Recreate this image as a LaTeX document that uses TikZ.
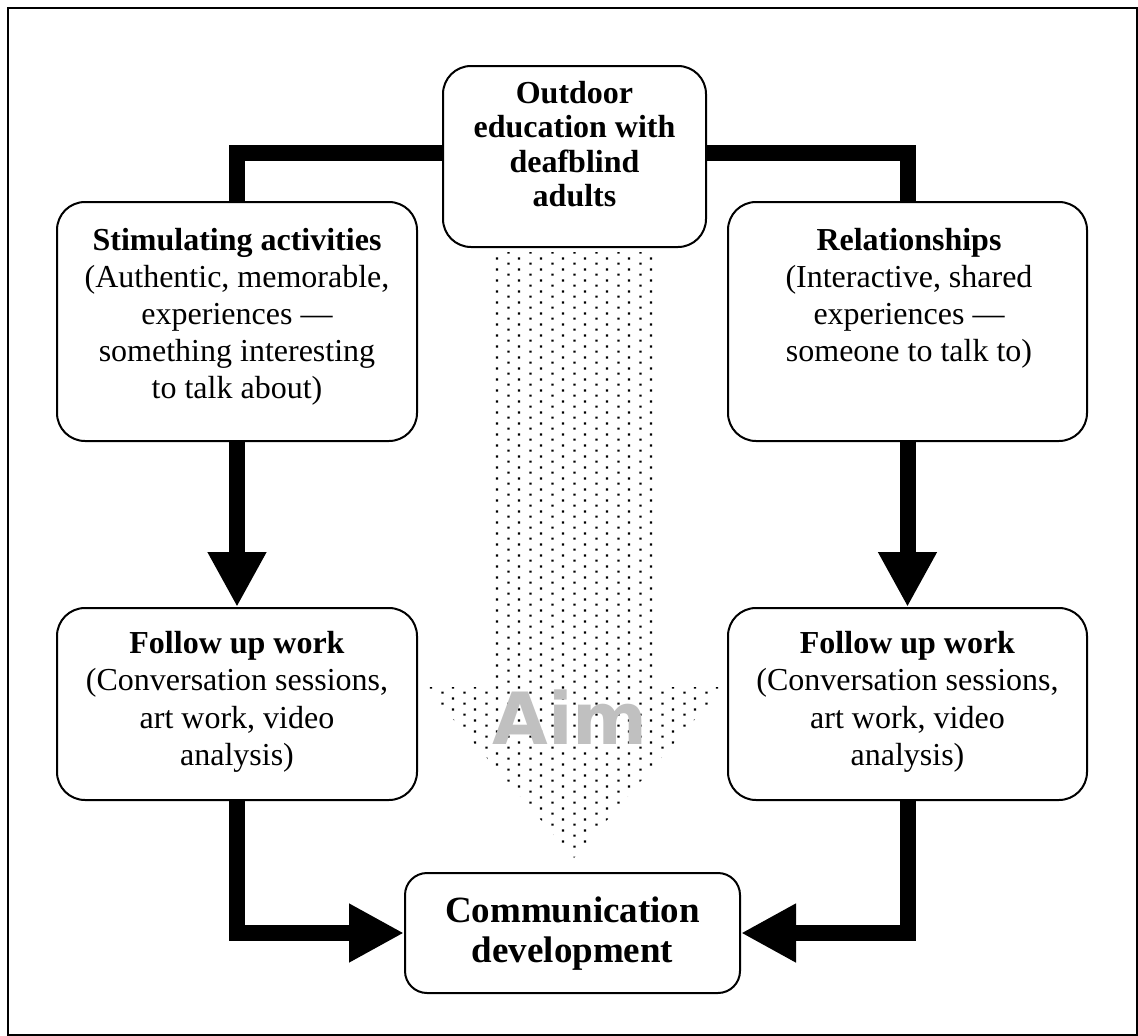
\documentclass[tikz,border=0pt]{standalone}
\usepackage{fontspec}
\setmainfont{Liberation Serif}
\newfontfamily\aimfont{DejaVu Sans}
\usetikzlibrary{arrows.meta,patterns}
\pgfdeclarepatternformonly{aimdots}{\pgfqpoint{0pt}{0pt}}{\pgfqpoint{22pt}{11pt}}{\pgfqpoint{22pt}{11pt}}{%
  \pgfpathrectangle{\pgfqpoint{1.5pt}{1.5pt}}{\pgfqpoint{2.3pt}{2.3pt}}%
  \pgfpathrectangle{\pgfqpoint{12.5pt}{7pt}}{\pgfqpoint{2.3pt}{2.3pt}}%
  \pgfusepath{fill}}
\definecolor{aimgray}{RGB}{192,192,192}
\newcommand\tallstrut{\rule{0pt}{25pt}}
\newcommand\commstrut{\rule{0pt}{29pt}}
\begin{document}
\begin{tikzpicture}[x=1pt,y=-1pt,
  box/.style={draw, line width=2pt, rounded corners=28pt, fill=white, inner sep=0pt},
  txt/.style={font=\fontsize{32}{37}\selectfont, align=center, anchor=north, inner sep=0pt},
  conn/.style={line width=16pt},
  arr/.style={line width=16pt, -{Triangle[length=55pt,width=55pt]}}]
\useasboundingbox (0,0) rectangle (1138,1036);
\draw[line width=2.5pt] (8,8) rectangle (1137,1035);

% dotted "Aim" arrow
\path[pattern=aimdots] (490,252) -- (658,252) -- (658,687) -- (723,687) -- (574,858) -- (425,687) -- (490,687) -- cycle;
\node[font=\aimfont\bfseries\fontsize{72}{72}\selectfont, text=aimgray, anchor=base, inner sep=0pt] (aim) at (570,744) {Aim};

% boxes
\node[box, minimum width=263pt, minimum height=181pt] (outdoor) at (574.5,156.5) {};
\node[box, minimum width=360pt, minimum height=239pt] (stim) at (237,321.5) {};
\node[box, minimum width=359pt, minimum height=239pt] (rel) at (907.5,321.5) {};
\node[box, minimum width=360pt, minimum height=192pt] (fuL) at (237,704) {};
\node[box, minimum width=359pt, minimum height=192pt] (fuR) at (907.5,704) {};
\node[box, rounded corners=22pt, minimum width=335pt, minimum height=120pt] (comm) at (572.5,933) {};

% texts
\node[txt, font=\bfseries\fontsize{32}{34.5}\selectfont] (outdoortxt) at (574.5,78)
  {\tallstrut Outdoor\\education with\\deafblind\\adults};
\node[txt] (stimtxt) at (237,225)
  {\tallstrut\textbf{Stimulating activities}\\(Authentic, memorable,\\experiences —\\something interesting\\to talk about)};
\node[txt] (reltxt) at (909,225)
  {\tallstrut\textbf{Relationships}\\(Interactive, shared\\experiences —\\someone to talk to)};
\node[txt, font=\fontsize{32}{37.5}\selectfont] (fuLtxt) at (237,628)
  {\tallstrut\textbf{Follow up work}\\(Conversation sessions,\\art work, video\\analysis)};
\node[txt, font=\fontsize{32}{37.5}\selectfont] (fuRtxt) at (907.5,628)
  {\tallstrut\textbf{Follow up work}\\(Conversation sessions,\\art work, video\\analysis)};
\node[txt, font=\bfseries\fontsize{37}{40}\selectfont] (commtxt) at (572.5,893)
  {\commstrut Communication\\development};

% connectors
\draw[conn] ([yshift=3.5pt]outdoor.west) -| (stim.north);
\draw[conn] ([yshift=3.5pt]outdoor.east) -| (rel.north);
\draw[arr] (stim.south) -- (fuL.north);
\draw[arr] (rel.south) -- (fuR.north);
\draw[arr] (fuL.south) |- (comm.west);
\draw[arr] (fuR.south) |- (comm.east);
\end{tikzpicture}
\end{document}
